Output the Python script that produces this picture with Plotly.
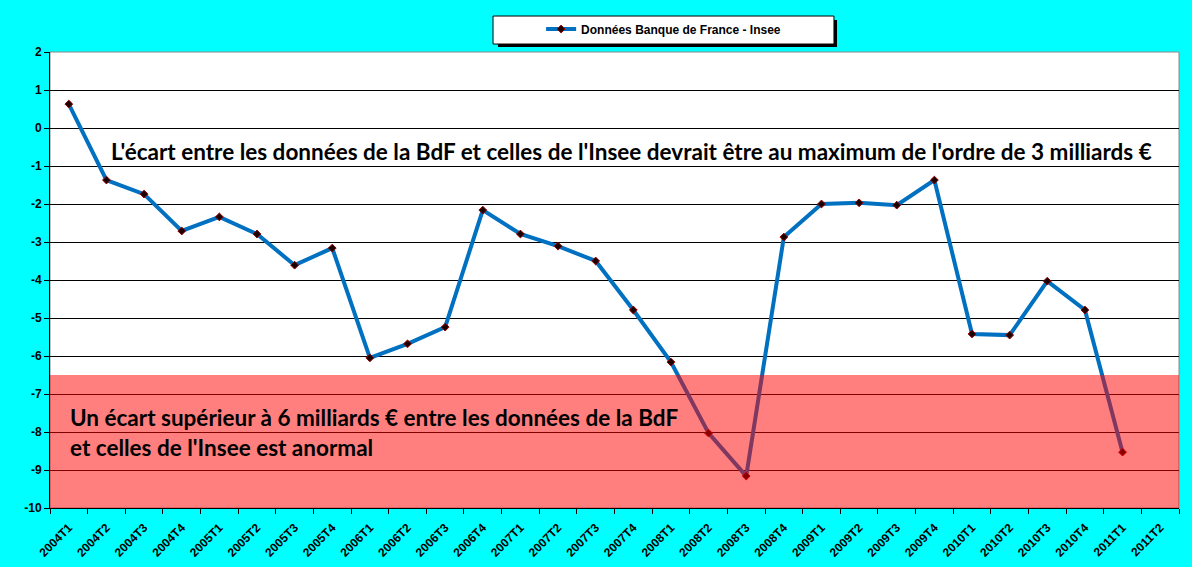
import plotly.graph_objects as go

# quarters shown on the x axis
quarters = ['2004T1', '2004T2', '2004T3', '2004T4',
            '2005T1', '2005T2', '2005T3', '2005T4',
            '2006T1', '2006T2', '2006T3', '2006T4',
            '2007T1', '2007T2', '2007T3', '2007T4',
            '2008T1', '2008T2', '2008T3', '2008T4',
            '2009T1', '2009T2', '2009T3', '2009T4',
            '2010T1', '2010T2', '2010T3', '2010T4',
            '2011T1', '2011T2']

# gap between BdF and Insee data (billions €), last quarter has no value
ecart = [0.63, -1.37, -1.74, -2.71,
         -2.34, -2.79, -3.61, -3.16,
         -6.05, -5.68, -5.24, -2.16,
         -2.79, -3.11, -3.50, -4.79,
         -6.16, -8.03, -9.16, -2.87,
         -2.00, -1.97, -2.03, -1.37,
         -5.42, -5.45, -4.03, -4.79,
         -8.53, None]

y_ticks = list(range(2, -11, -1))

# "abnormal" zone
zone_top = -6.5
zone_bottom = -10

fig = go.Figure()

fig.add_trace(go.Scatter(x=quarters, y=ecart,
                         mode='lines+markers',
                         name='Données Banque de France - Insee',
                         line=dict(color='#0070C0', width=4),
                         marker=dict(symbol='diamond', size=6, color='#1a0000',
                                     line=dict(color='#990000', width=1))))

# pink semi-transparent zone drawn over the line and grid
fig.add_shape(type='rect', xref='paper', yref='y', x0=0, x1=1, y0=zone_bottom, y1=zone_top,
              fillcolor='red', opacity=0.5, line_width=0, layer='above')

# plot area border
fig.add_shape(type='rect', xref='paper', yref='paper', x0=0, x1=1, y0=0, y1=1,
              line=dict(color='#888888', width=1), layer='below')

# legend box with shadow
fig.add_shape(type='rect', xref='paper', yref='paper', x0=0.3968, x1=0.6971, y0=1.0110, y1=1.0700,
              fillcolor='black', line_width=0, layer='below')
fig.add_shape(type='rect', xref='paper', yref='paper', x0=0.3924, x1=0.6944, y0=1.0175, y1=1.0789,
              fillcolor='white', line=dict(color='black', width=1), layer='below')

txt_font = dict(family='Lato', size=22.5, color='black', weight='bold')
fig.add_annotation(xref='paper', yref='y', x=0.5155, y=-0.63,
                   text="L'écart entre les données de la BdF et celles de l'Insee devrait être au maximum de l'ordre de 3 milliards €",
                   showarrow=False, font=txt_font)
fig.add_annotation(xref='paper', yref='y', x=0.016, y=-7.63, xanchor='left',
                   text="Un écart supérieur à 6 milliards € entre les données de la BdF",
                   showarrow=False, font=txt_font)
fig.add_annotation(xref='paper', yref='y', x=0.016, y=-8.42, xanchor='left',
                   text="et celles de l'Insee est anormal",
                   showarrow=False, font=txt_font)

fig.update_layout(
    width=1192, height=567,
    margin=dict(l=50, r=13, t=52, b=59, autoexpand=False),
    paper_bgcolor='#00FFFF', plot_bgcolor='white',
    font=dict(family='Arial, Liberation Sans', color='black'),
    showlegend=True,
    legend=dict(orientation='h', x=0.435, xanchor='left',
                y=1 - 29 / 567, yref='container', yanchor='middle',
                bgcolor='rgba(0,0,0,0)', borderwidth=0,
                font=dict(size=12, weight='bold')),
)

fig.update_xaxes(type='category', categoryorder='array', categoryarray=quarters,
                 range=[-0.5, len(quarters) - 0.5],
                 showgrid=False, showline=True, linecolor='black', linewidth=1,
                 ticks='outside', tickson='boundaries', ticklen=5, tickcolor='black',
                 tickangle=-45, ticklabelstandoff=7,
                 tickfont=dict(size=12, weight='bold'))
fig.update_yaxes(range=[-10, 2], tickvals=y_ticks, ticktext=[str(v) for v in y_ticks],
                 showgrid=True, gridcolor='black', gridwidth=1, zeroline=False,
                 showline=True, linecolor='black', linewidth=1,
                 ticks='outside', ticklen=5, tickcolor='black',
                 tickfont=dict(size=12, weight='bold'))

fig.write_html("out.html", config={'displayModeBar': False},
               post_script="document.body.style.margin='0px';document.body.style.background='#00FFFF';")
